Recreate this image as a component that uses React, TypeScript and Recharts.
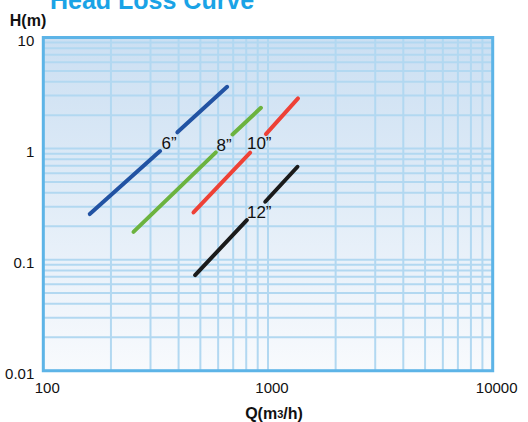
import React from 'react';
import { LineChart, Line, XAxis, YAxis, CartesianGrid, ReferenceArea, ReferenceDot } from 'recharts';

// Flow (m3/h) and head loss (m) points for each pipe size: lower segment end, gap, upper segment
const pipeSizes = ['6”', '8”', '10”', '12”'];
const q6 = [161, 331, 395, 658];
const h6 = [0.257, 0.949, 1.4, 3.6];
const q8 = [252, 586, 695, 930];
const h8 = [0.178, 0.924, 1.34, 2.33];
const q10 = [466, 833, 979, 1360];
const h10 = [0.266, 0.917, 1.35, 2.83];
const q12 = [474, 805, 972, 1353];
const h12 = [0.0725, 0.227, 0.332, 0.686];
const labelQ = [363, 638, 914, 914];
const labelH = [1.12, 1.08, 1.12, 0.268];
const colors = ['#2253a3', '#6cb33f', '#ee4136', '#1b1b1b'];

const xTickLabels = [100, 1000, 10000];
const yTickLabels = [0.01, 0.1, 1, 10];
const xGrid = [100, 200, 300, 400, 500, 600, 700, 800, 900, 1000, 2000, 3000, 4000, 5000, 6000, 7000, 8000, 9000, 10000];
const yGrid = [0.01, 0.02, 0.03, 0.04, 0.05, 0.06, 0.07, 0.08, 0.09, 0.1, 0.2, 0.3, 0.4, 0.5, 0.6, 0.7, 0.8, 0.9, 1, 2, 3, 4, 5, 6, 7, 8, 9, 10];

const FONT = '"Liberation Sans", Arial, sans-serif';

const allQ = [q6, q8, q10, q12];
const allH = [h6, h8, h10, h12];
const segments = allQ.map((qs, i) => [
  [{ q: qs[0], h: allH[i][0] }, { q: qs[1], h: allH[i][1] }],
  [{ q: qs[2], h: allH[i][2] }, { q: qs[3], h: allH[i][3] }],
]);

const isLabel = (list: number[], v: number) => list.some((t) => Math.abs(t - v) / t < 1e-6);

const renderXTick = (props: any) => {
  const { x, y, payload } = props;
  if (!isLabel(xTickLabels, Number(payload.value))) return <g />;
  return (
    <text x={x + 4} y={y + 22} textAnchor="middle" fontSize={15} fontFamily={FONT} fill="#111">
      {String(payload.value)}
    </text>
  );
};

const renderYTick = (props: any) => {
  const { x, y, payload } = props;
  if (!isLabel(yTickLabels, Number(payload.value))) return <g />;
  return (
    <text x={x - 9} y={y + 8} textAnchor="end" fontSize={15} fontFamily={FONT} fill="#111">
      {String(payload.value)}
    </text>
  );
};

export default function App() {
  return (
    <div style={{ position: 'absolute', left: 0, top: 0, width: 528, height: 422, background: '#fff', overflow: 'hidden' }}>
      <svg width={0} height={0} style={{ position: 'absolute' }}>
        <defs>
          <linearGradient id="plotBg" x1="0" y1="0" x2="0" y2="1">
            <stop offset="0" stopColor="#cbdff2" />
            <stop offset="1" stopColor="#f8fafd" />
          </linearGradient>
        </defs>
      </svg>
      <LineChart width={528} height={422} margin={{ top: 37.5, right: 35.3, bottom: 21.3, left: 3.3 }}>
        <CartesianGrid stroke="#b2d8f1" strokeWidth={2} fill="url(#plotBg)" fillOpacity={1} />
        <XAxis
          type="number"
          dataKey="q"
          scale="log"
          domain={[100, 10000]}
          allowDataOverflow
          ticks={xGrid}
          interval={0}
          tickLine={false}
          axisLine={false}
          tickSize={0}
          tickMargin={0}
          height={30}
          tick={renderXTick}
        />
        <YAxis
          type="number"
          dataKey="h"
          scale="log"
          domain={[0.01, 10]}
          allowDataOverflow
          ticks={yGrid}
          interval={0}
          tickLine={false}
          axisLine={false}
          tickSize={0}
          tickMargin={0}
          width={40}
          tick={renderYTick}
        />
        <ReferenceArea x1={100} x2={10000} y1={0.01} y2={10} fill="none" stroke="#5db4e7" strokeWidth={3} ifOverflow="visible" />
        {segments.map((segs, i) =>
          segs.map((seg, j) => (
            <Line
              key={`l${i}-${j}`}
              data={seg}
              dataKey="h"
              type="linear"
              stroke={colors[i]}
              strokeWidth={4}
              strokeLinecap="round"
              dot={false}
              activeDot={false}
              isAnimationActive={false}
            />
          ))
        )}
        {pipeSizes.map((name, i) => (
          <ReferenceDot
            key={`d${i}`}
            x={labelQ[i]}
            y={labelH[i]}
            r={0}
            fill="none"
            stroke="none"
            label={{ value: name, position: 'center', fill: '#111', fontSize: 17, fontFamily: FONT }}
          />
        ))}
      </LineChart>
      <svg width={528} height={422} style={{ position: 'absolute', left: 0, top: 0, pointerEvents: 'none' }}>
        <text x={50} y={9} fontSize={25} fontWeight="bold" fontFamily={FONT} fill="#1aa3e6">
          Head Loss Curve
        </text>
        <text x={28} y={26} textAnchor="middle" fontSize={16} fontWeight="bold" fontFamily={FONT} fill="#111">
          H(m)
        </text>
        <text x={274} y={419} textAnchor="middle" fontSize={16} fontWeight="bold" fontFamily={FONT} fill="#111">
          Q(m<tspan fontSize={11} dy={-1}>3</tspan><tspan dy={1}>/h)</tspan>
        </text>
      </svg>
    </div>
  );
}
